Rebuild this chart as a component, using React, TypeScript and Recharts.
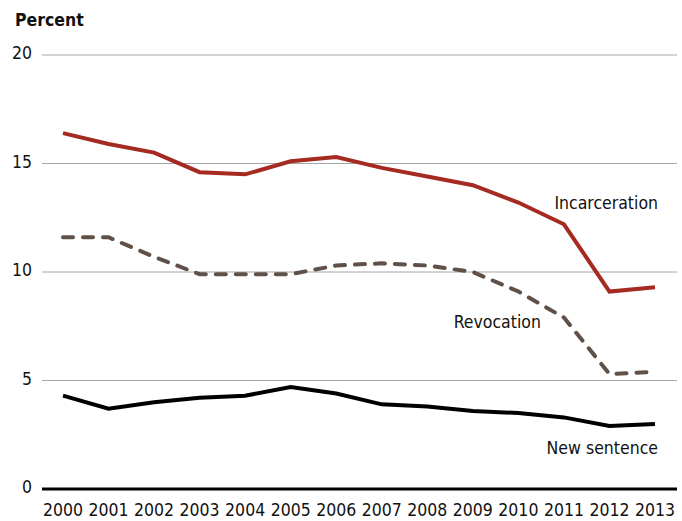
import React from "react";
import { LineChart, Line, XAxis, YAxis, CartesianGrid, LabelList, Customized, ReferenceLine } from "recharts";

const years = ["2000","2001","2002","2003","2004","2005","2006","2007","2008","2009","2010","2011","2012","2013"];
const incarceration = [16.4, 15.9, 15.5, 14.6, 14.5, 15.1, 15.3, 14.8, 14.4, 14.0, 13.2, 12.2, 9.1, 9.3];
const revocation = [11.6, 11.6, 10.7, 9.9, 9.9, 9.9, 10.3, 10.4, 10.3, 10.0, 9.1, 7.9, 5.3, 5.4];
const newSentence = [4.3, 3.7, 4.0, 4.2, 4.3, 4.7, 4.4, 3.9, 3.8, 3.6, 3.5, 3.3, 2.9, 3.0];
const yTicks = [0, 5, 10, 15, 20];

const data = years.map((y, i) => ({
  year: y,
  incarceration: incarceration[i],
  revocation: revocation[i],
  newSentence: newSentence[i],
}));

const FONT = "'DejaVu Sans Condensed', 'DejaVu Sans', sans-serif";
const FS = 17.5;
const textStyle = { fontStretch: "condensed" as const };

const YTick = (props: any) => {
  const { x, y, payload } = props;
  return (
    <text x={x} y={y - 2} dy="0.355em" textAnchor="end" fontFamily={FONT} fontSize={FS} fill="#111" style={textStyle}>
      {payload.value}
    </text>
  );
};

const XTick = (props: any) => {
  const { x, y, payload } = props;
  return (
    <text x={x} y={y} dy="0.71em" textAnchor="middle" fontFamily={FONT} fontSize={FS} fill="#111" style={textStyle}>
      {payload.value}
    </text>
  );
};

const makeLabel = (text: string, idx: number, dx: number, dy: number) => (props: any) => {
  const { x, y, index } = props;
  if (index !== idx) return null;
  return (
    <text x={x + dx} y={y + dy} textAnchor="end" fontFamily={FONT} fontSize={FS} fill="#111" style={textStyle}>
      {text}
    </text>
  );
};

export default function App() {
  return (
    <div style={{ position: "absolute", left: 0, top: 0, background: "#fff" }}>
      <LineChart width={682} height={521} data={data} margin={{ top: 55, right: 5, bottom: 0, left: 0 }}>
        <CartesianGrid horizontal vertical={false} stroke="#a6a6a6" strokeWidth={1} />
        <XAxis
          dataKey="year"
          axisLine={false}
          tickLine={false}
          tickSize={0}
          tickMargin={15}
          height={32}
          interval={0}
          padding={{ left: 21, right: 22 }}
          tick={<XTick />}
        />
        <YAxis
          domain={[0, 20]}
          ticks={yTicks}
          axisLine={false}
          tickLine={false}
          tickSize={0}
          tickMargin={10}
          width={42}
          tick={<YTick />}
        />
        <ReferenceLine y={0} stroke="#000" strokeWidth={3} ifOverflow="visible" />
        <Line
          type="linear"
          dataKey="incarceration"
          stroke="#a52a21"
          strokeWidth={4}
          dot={false}
          isAnimationActive={false}
        >
          <LabelList content={makeLabel("Incarceration", 13, 3, -78)} />
        </Line>
        <Line
          type="linear"
          dataKey="revocation"
          stroke="#5f5048"
          strokeWidth={4}
          strokeDasharray="10 10"
          strokeLinecap="round"
          dot={false}
          isAnimationActive={false}
        >
          <LabelList content={makeLabel("Revocation", 11, -23, 10)} />
        </Line>
        <Line
          type="linear"
          dataKey="newSentence"
          stroke="#000"
          strokeWidth={4}
          dot={false}
          isAnimationActive={false}
        >
          <LabelList content={makeLabel("New sentence", 13, 3, 30)} />
        </Line>
        <Customized
          component={() => (
            <text x={15} y={26} fontFamily={FONT} fontSize={FS} fontWeight="bold" fill="#111" style={textStyle}>
              Percent
            </text>
          )}
        />
      </LineChart>
    </div>
  );
}
